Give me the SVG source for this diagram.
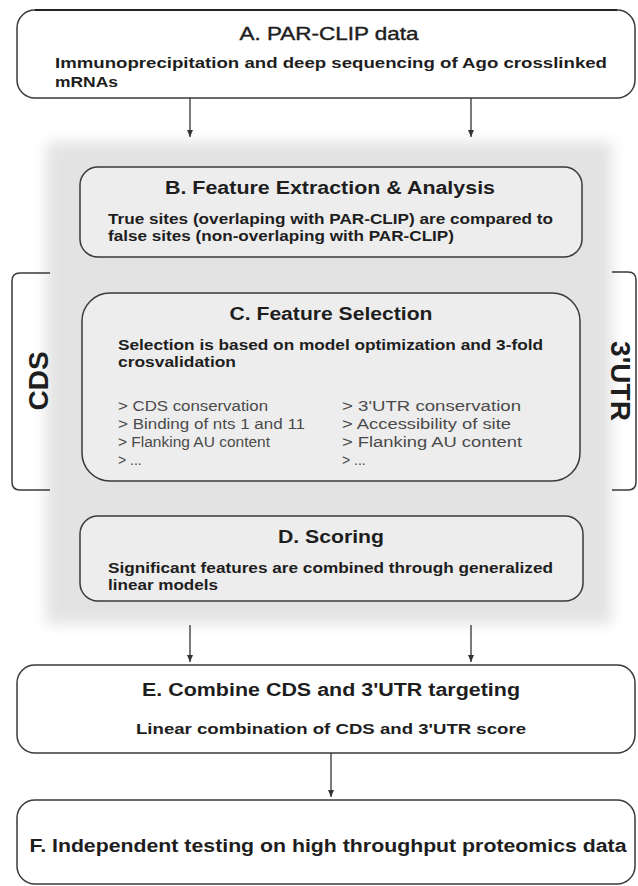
<svg xmlns="http://www.w3.org/2000/svg" width="638" height="886" viewBox="0 0 638 886">
<defs>
<filter id="blur" x="-10%" y="-10%" width="120%" height="120%"><feGaussianBlur stdDeviation="7"/></filter>
<marker id="arr" markerWidth="8" markerHeight="8" refX="7" refY="4" orient="auto" markerUnits="userSpaceOnUse"><path d="M0,1 L7,4 L0,7 Z" fill="#333"/></marker>
<style>
.box{fill:#fff;stroke:#3a3a3a;stroke-width:1.5}
.ibox{fill:#ededed;stroke:#3a3a3a;stroke-width:1.5}
.brk{fill:none;stroke:#3a3a3a;stroke-width:1.5}
.t{font-family:"Liberation Sans",Arial,sans-serif;font-weight:bold;fill:#1e1e1e}
.title{font-size:18px;text-anchor:middle}
.body{font-size:15px}
.li{font-family:"Liberation Sans",Arial,sans-serif;font-size:14px;fill:#4a4a4a}
.side{font-family:"Liberation Sans",Arial,sans-serif;font-weight:bold;font-size:28px;fill:#1e1e1e;text-anchor:middle}
.con{stroke:#333;stroke-width:1.3;fill:none;marker-end:url(#arr)}
</style>
</defs>
<rect width="638" height="886" fill="#fff"/>
<rect x="46" y="142" width="566" height="482" fill="#e3e3e3" filter="url(#blur)"/>

<g id="cds">
<path class="brk" d="M50,273 H20 Q12,273 12,281 V482 Q12,490 20,490 H50"/>
<text class="side" transform="translate(48,381) rotate(-90)">CDS</text>
</g>
<g id="utr">
<path class="brk" d="M612,272 H628 Q636,272 636,280 V482 Q636,490 628,490 H612"/>
<text class="side" transform="translate(611,381) rotate(90)">3'UTR</text>
</g>

<g id="nodeA">
<rect class="box" x="17" y="10" width="618" height="88" rx="18"/>
<line x1="35" y1="10" x2="617" y2="10" stroke="#222" stroke-width="2"/>
<text class="t title" x="329" y="40" style="font-weight:normal;font-size:19px" stroke="#1e1e1e" stroke-width="0.4" textLength="179" lengthAdjust="spacingAndGlyphs">A. PAR-CLIP data</text>
<text class="t body" x="55" y="68" textLength="552" lengthAdjust="spacingAndGlyphs">Immunoprecipitation and deep sequencing of Ago crosslinked</text>
<text class="t body" x="55" y="87" textLength="63" lengthAdjust="spacingAndGlyphs">mRNAs</text>
</g>

<g id="nodeB">
<rect class="ibox" x="80" y="167" width="502" height="90" rx="18"/>
<text class="t title" x="330" y="194" textLength="330" lengthAdjust="spacingAndGlyphs">B. Feature Extraction &amp; Analysis</text>
<text class="t body" x="108" y="224" textLength="445" lengthAdjust="spacingAndGlyphs">True sites (overlaping with PAR-CLIP) are compared to</text>
<text class="t body" x="108" y="241" textLength="346" lengthAdjust="spacingAndGlyphs">false sites (non-overlaping with PAR-CLIP)</text>
</g>

<g id="nodeC">
<rect class="ibox" x="82" y="293" width="498" height="188" rx="28"/>
<text class="t title" x="331" y="320" textLength="203" lengthAdjust="spacingAndGlyphs">C. Feature Selection</text>
<text class="t body" x="118" y="350" textLength="425" lengthAdjust="spacingAndGlyphs">Selection is based on model optimization and 3-fold</text>
<text class="t body" x="118" y="367" textLength="118" lengthAdjust="spacingAndGlyphs">crosvalidation</text>
<text class="li" x="118" y="411" textLength="150" lengthAdjust="spacingAndGlyphs">&gt; CDS conservation</text>
<text class="li" x="118" y="429" textLength="187" lengthAdjust="spacingAndGlyphs">&gt; Binding of nts 1 and 11</text>
<text class="li" x="118" y="447" textLength="152" lengthAdjust="spacingAndGlyphs">&gt; Flanking AU content</text>
<text class="li" x="118" y="465">&gt; ...</text>
<text class="li" x="342" y="411" textLength="179" lengthAdjust="spacingAndGlyphs">&gt; 3'UTR conservation</text>
<text class="li" x="342" y="429" textLength="169" lengthAdjust="spacingAndGlyphs">&gt; Accessibility of site</text>
<text class="li" x="342" y="447" textLength="180" lengthAdjust="spacingAndGlyphs">&gt; Flanking AU content</text>
<text class="li" x="342" y="465">&gt; ...</text>
</g>

<g id="nodeD">
<rect class="ibox" x="80" y="516" width="503" height="85" rx="18"/>
<text class="t title" x="331" y="543" textLength="106" lengthAdjust="spacingAndGlyphs">D. Scoring</text>
<text class="t body" x="108" y="573" textLength="445" lengthAdjust="spacingAndGlyphs">Significant features are combined through generalized</text>
<text class="t body" x="108" y="590" textLength="110" lengthAdjust="spacingAndGlyphs">linear models</text>
</g>

<g id="nodeE">
<rect class="box" x="17" y="665" width="618" height="88" rx="18"/>
<text class="t title" x="331" y="696" textLength="378" lengthAdjust="spacingAndGlyphs">E. Combine CDS and 3'UTR targeting</text>
<text class="t body" x="331" y="734" text-anchor="middle" textLength="390" lengthAdjust="spacingAndGlyphs">Linear combination of CDS and 3'UTR score</text>
</g>

<g id="nodeF">
<rect class="box" x="17" y="800" width="618" height="84" rx="18"/>
<text class="t title" x="328" y="852" textLength="597" lengthAdjust="spacingAndGlyphs">F. Independent testing on high throughput proteomics data</text>
</g>

<g id="connectors">
<line class="con" x1="190" y1="98" x2="190" y2="137"/>
<line class="con" x1="471" y1="98" x2="471" y2="137"/>
<line class="con" x1="190" y1="625" x2="190" y2="662"/>
<line class="con" x1="471" y1="625" x2="471" y2="662"/>
<line class="con" x1="331" y1="753" x2="331" y2="797"/>
</g>
</svg>
